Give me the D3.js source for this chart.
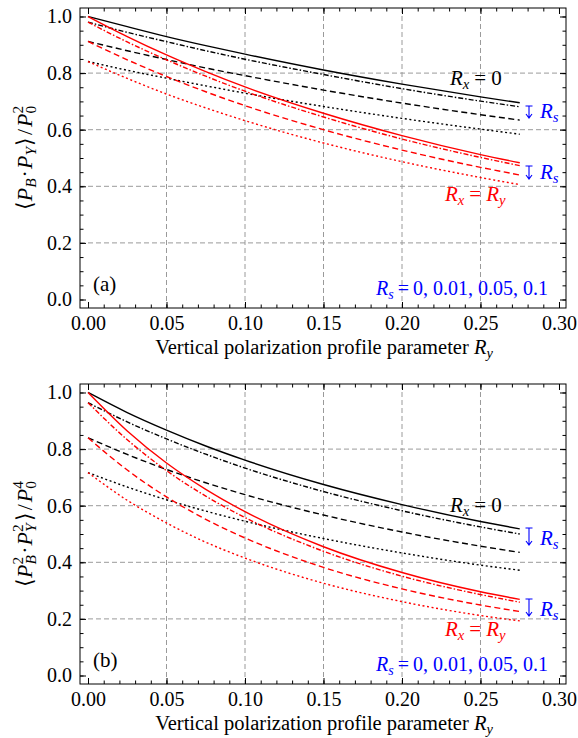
<!DOCTYPE html>
<html><head><meta charset="utf-8">
<script src="https://cdn.jsdelivr.net/npm/d3@7"></script>
<style>body{margin:0;background:#fff}</style>
</head><body>
<script>
// ---------- data ----------
const xValues = [0, 0.025, 0.05, 0.075, 0.1, 0.15, 0.2, 0.25, 0.275];
const rsLevels = ["0", "0.01", "0.05", "0.1"];

// Panel (a): <P_B P_Y>/P0^2
const aRx0_Rs0    = [1.000, 0.964, 0.929, 0.897, 0.867, 0.811, 0.761, 0.716, 0.695];
const aRx0_Rs001  = [0.980, 0.944, 0.911, 0.879, 0.849, 0.795, 0.745, 0.701, 0.681];
const aRx0_Rs005  = [0.912, 0.879, 0.848, 0.818, 0.791, 0.740, 0.694, 0.653, 0.634];
const aRx0_Rs01   = [0.841, 0.810, 0.782, 0.755, 0.729, 0.682, 0.640, 0.602, 0.584];
const aRxRy_Rs0   = [1.000, 0.929, 0.864, 0.805, 0.751, 0.658, 0.579, 0.512, 0.483];
const aRxRy_Rs001 = [0.980, 0.910, 0.847, 0.789, 0.736, 0.645, 0.567, 0.502, 0.473];
const aRxRy_Rs005 = [0.912, 0.847, 0.788, 0.734, 0.685, 0.600, 0.528, 0.467, 0.440];
const aRxRy_Rs01  = [0.841, 0.781, 0.726, 0.677, 0.632, 0.553, 0.487, 0.431, 0.406];

// Panel (b): <P_B^2 P_Y^2>/P0^4
const bRx0_Rs0    = [1.000, 0.929, 0.867, 0.811, 0.761, 0.675, 0.604, 0.544, 0.518];
const bRx0_Rs001  = [0.964, 0.896, 0.836, 0.782, 0.733, 0.650, 0.582, 0.525, 0.500];
const bRx0_Rs005  = [0.840, 0.781, 0.728, 0.681, 0.639, 0.567, 0.507, 0.457, 0.435];
const bRx0_Rs01   = [0.717, 0.666, 0.621, 0.581, 0.545, 0.484, 0.433, 0.390, 0.372];
const bRxRy_Rs0   = [1.000, 0.864, 0.751, 0.658, 0.579, 0.455, 0.364, 0.296, 0.269];
const bRxRy_Rs001 = [0.964, 0.833, 0.724, 0.634, 0.558, 0.439, 0.351, 0.286, 0.259];
const bRxRy_Rs005 = [0.840, 0.726, 0.631, 0.552, 0.486, 0.382, 0.306, 0.249, 0.226];
const bRxRy_Rs01  = [0.717, 0.619, 0.539, 0.471, 0.415, 0.326, 0.261, 0.212, 0.193];

const xTickValues = [0, 0.05, 0.1, 0.15, 0.2, 0.25, 0.3];
const xTickLabels = ["0.00", "0.05", "0.10", "0.15", "0.20", "0.25", "0.30"];
const yTickValues = [0, 0.2, 0.4, 0.6, 0.8, 1.0];
const yTickLabels = ["0.0", "0.2", "0.4", "0.6", "0.8", "1.0"];
const xMinorTicks = d3.range(0, 31).map(i => i / 100);
const yMinorTicks = d3.range(0, 21).map(i => i / 20);

// ---------- drawing ----------
const FONT = "'Liberation Serif','Times New Roman',serif";
const dashes = ["none", "5,2,1.5,2", "6,3.5", "2,2.6"];

const svg = d3.select("body").append("svg")
  .attr("width", 578).attr("height", 738)
  .style("font-family", FONT);

const x = d3.scaleLinear().domain([-0.0051, 0.30446]).range([80, 566]);

function rich(text, parts, fs) {
  let cur = 0;
  parts.forEach(p => {
    const ts = text.append("tspan").text(p.t);
    const target = p.sub ? fs * 0.2 : p.sup ? -fs * 0.42 : 0;
    ts.attr("dy", target - cur); cur = target;
    if (p.i) ts.attr("font-style", "italic");
    if (p.sub || p.sup) ts.attr("font-size", fs * 0.7);
    if (p.dx) ts.attr("dx", p.dx);
  });
}

function arrow(g, cx, y1, y2) {
  g.append("path")
    .attr("d", `M${cx-3.5},${y1}H${cx+3.5}M${cx},${y1}V${y2}M${cx-3},${y2-4}L${cx},${y2}L${cx+3},${y2-4}`)
    .attr("fill", "none").attr("stroke", "#0000ff").attr("stroke-width", 1.1);
}

function drawPanel(cfg) {
  const top = cfg.top, bottom = cfg.top + 300;
  const y = d3.scaleLinear().domain([-0.03, 1.03]).range([bottom, top]);
  const g = svg.append("g");

  // grid
  g.selectAll(".gx").data(xTickValues.filter(v => v > 0 && v < 0.3)).join("line")
    .attr("x1", d => x(d)).attr("x2", d => x(d)).attr("y1", top).attr("y2", bottom)
    .attr("stroke", "#9a9a9a").attr("stroke-dasharray", "5,3");
  g.selectAll(".gy").data(yTickValues.filter(v => v > 0 && v < 1)).join("line")
    .attr("y1", d => y(d)).attr("y2", d => y(d)).attr("x1", 80).attr("x2", 566)
    .attr("stroke", "#9a9a9a").attr("stroke-dasharray", "5,3");

  // curves
  const line = d3.line().x(d => x(d[0])).y(d => y(d[1])).curve(d3.curveMonotoneX);
  cfg.series.forEach(s => {
    g.append("path")
      .attr("d", line(xValues.map((xv, i) => [xv, s.values[i]])))
      .attr("fill", "none").attr("stroke", s.color).attr("stroke-width", 1.4)
      .attr("stroke-dasharray", dashes[s.style]);
  });

  // axes
  const styleAxis = a => { a.select(".domain").remove(); a.selectAll("line").attr("stroke", "#000");
    a.selectAll("text").attr("font-family", FONT).attr("font-size", 20).attr("fill", "#000"); };
  g.append("g").attr("transform", `translate(0,${bottom})`)
    .call(d3.axisBottom(x).tickValues(xTickValues).tickFormat((d, i) => xTickLabels[i]).tickSize(-6).tickSizeOuter(0).tickPadding(8)).call(styleAxis);
  g.append("g").attr("transform", `translate(0,${bottom})`)
    .call(d3.axisBottom(x).tickValues(xMinorTicks).tickFormat("").tickSize(-3.5).tickSizeOuter(0)).call(styleAxis);
  g.append("g").attr("transform", `translate(0,${top})`)
    .call(d3.axisTop(x).tickValues(xTickValues).tickFormat("").tickSize(-6).tickSizeOuter(0)).call(styleAxis);
  g.append("g").attr("transform", `translate(0,${top})`)
    .call(d3.axisTop(x).tickValues(xMinorTicks).tickFormat("").tickSize(-3.5).tickSizeOuter(0)).call(styleAxis);
  g.append("g").attr("transform", `translate(80,0)`)
    .call(d3.axisLeft(y).tickValues(yTickValues).tickFormat((d, i) => yTickLabels[i]).tickSize(-6).tickSizeOuter(0).tickPadding(8)).call(styleAxis);
  g.append("g").attr("transform", `translate(80,0)`)
    .call(d3.axisLeft(y).tickValues(yMinorTicks).tickFormat("").tickSize(-3.5).tickSizeOuter(0)).call(styleAxis);
  g.append("g").attr("transform", `translate(566,0)`)
    .call(d3.axisRight(y).tickValues(yTickValues).tickFormat("").tickSize(-6).tickSizeOuter(0)).call(styleAxis);
  g.append("g").attr("transform", `translate(566,0)`)
    .call(d3.axisRight(y).tickValues(yMinorTicks).tickFormat("").tickSize(-3.5).tickSizeOuter(0)).call(styleAxis);

  g.append("rect").attr("x", 80).attr("y", top).attr("width", 486).attr("height", 300)
    .attr("fill", "none").attr("stroke", "#000").attr("stroke-width", 1);

  // x label
  const xl = g.append("text").attr("x", 324).attr("y", bottom + 46).attr("text-anchor", "middle")
    .attr("font-size", 20.5);
  rich(xl, [{t: "Vertical polarization profile parameter "}, {t: "R", i: true}, {t: "y", i: true, sub: true}], 20.5);

  // y label
  const yl = g.append("text").attr("transform", `translate(32,${(top + bottom) / 2}) rotate(-90)`)
    .attr("text-anchor", "middle").attr("font-size", 22);
  rich(yl, cfg.yLabel, 22);

  // annotations
  const fs = 21;
  const t1 = g.append("text").attr("x", 450).attr("y", cfg.rx0Y).attr("font-size", fs).attr("fill", "#000");
  rich(t1, [{t: "R", i: true}, {t: "x", i: true, sub: true}, {t: "=", dx: 5}, {t: "0", dx: 5}], fs);
  const t2 = g.append("text").attr("x", 445).attr("y", cfg.rxryY).attr("font-size", fs).attr("fill", "#ff0000");
  rich(t2, [{t: "R", i: true}, {t: "x", i: true, sub: true}, {t: "=", dx: 5}, {t: "R", i: true, dx: 5}, {t: "y", i: true, sub: true}], fs);
  cfg.arrows.forEach(a => {
    arrow(g, 529, a[0], a[1]);
    const ta = g.append("text").attr("x", 540).attr("y", a[1]).attr("font-size", fs).attr("fill", "#0000ff");
    rich(ta, [{t: "R", i: true}, {t: "s", i: true, sub: true}], fs);
  });
  const t3 = g.append("text").attr("x", 376).attr("y", bottom - 13).attr("font-size", 20).attr("fill", "#0000ff");
  rich(t3, [{t: "R", i: true}, {t: "s", i: true, sub: true}, {t: "=", dx: 4}, {t: rsLevels.join(", "), dx: 4}], 20);
  g.append("text").attr("x", 93).attr("y", bottom - 17).attr("font-size", 21).text(cfg.tag);
}

const sub = 22 * 0.7;
drawPanel({
  top: 8, tag: "(a)", rx0Y: 85, rxryY: 201, arrows: [[106, 118], [166, 179]],
  yLabel: [{t: "⟨"}, {t: "P", i: true}, {t: "B", i: true, sub: true}, {t: "·", dx: 1}, {t: "P", i: true, dx: 1},
    {t: "Y", i: true, sub: true}, {t: "⟩", dx: 1}, {t: "/", dx: 2}, {t: "P", i: true, dx: 2}, {t: "0", sub: true},
    {t: "2", sup: true, dx: -sub * 0.5}],
  series: [
    {values: aRx0_Rs0, color: "#000", style: 0}, {values: aRx0_Rs001, color: "#000", style: 1},
    {values: aRx0_Rs005, color: "#000", style: 2}, {values: aRx0_Rs01, color: "#000", style: 3},
    {values: aRxRy_Rs0, color: "#ff0000", style: 0}, {values: aRxRy_Rs001, color: "#ff0000", style: 1},
    {values: aRxRy_Rs005, color: "#ff0000", style: 2}, {values: aRxRy_Rs01, color: "#ff0000", style: 3}
  ]
});
drawPanel({
  top: 384, tag: "(b)", rx0Y: 512, rxryY: 636, arrows: [[528, 545], [599, 616]],
  yLabel: [{t: "⟨"}, {t: "P", i: true}, {t: "B", i: true, sub: true}, {t: "2", sup: true, dx: -sub * 0.61},
    {t: "·", dx: 3}, {t: "P", i: true, dx: 1}, {t: "Y", i: true, sub: true}, {t: "2", sup: true, dx: -sub * 0.56},
    {t: "⟩", dx: 3}, {t: "/", dx: 2}, {t: "P", i: true, dx: 2}, {t: "0", sub: true}, {t: "4", sup: true, dx: -sub * 0.5}],
  series: [
    {values: bRx0_Rs0, color: "#000", style: 0}, {values: bRx0_Rs001, color: "#000", style: 1},
    {values: bRx0_Rs005, color: "#000", style: 2}, {values: bRx0_Rs01, color: "#000", style: 3},
    {values: bRxRy_Rs0, color: "#ff0000", style: 0}, {values: bRxRy_Rs001, color: "#ff0000", style: 1},
    {values: bRxRy_Rs005, color: "#ff0000", style: 2}, {values: bRxRy_Rs01, color: "#ff0000", style: 3}
  ]
});
</script>
</body></html>
